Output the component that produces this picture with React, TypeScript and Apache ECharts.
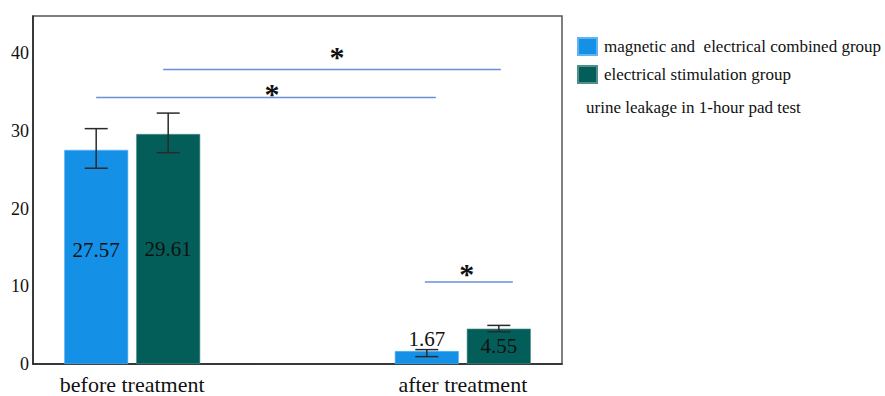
import React, { useEffect, useRef } from "react";
import * as echarts from "echarts";

// ---- data ----
const categories = ["before treatment", "after treatment"];
const categorySlots = [1, 6]; // slot index of each category on an 8-slot axis
const slotCount = 8;
const seriesNames = ["magnetic and  electrical combined group", "electrical stimulation group"];
const combinedValues = [27.57, 1.67];
const electricalValues = [29.61, 4.55];
const combinedErrLow = [25.2, 0.95];
const combinedErrHigh = [30.3, 1.85];
const electricalErrLow = [27.2, 4.15];
const electricalErrHigh = [32.3, 4.97];
const yTicks = [0, 10, 20, 30, 40];
const yMax = 44.8;
const subtitle = "urine leakage in 1-hour pad test";
// significance brackets: [fromSlot, fromDx, toSlot, toDx, lineValue, starValue, starDx]
const brackets = [
  [1, 31, 6, 38, 37.9, 40.0, 5],
  [1, -36, 6, -27, 34.3, 35.2, 6],
  [6, -38, 6, 50, 10.55, 12.1, -2],
];

// ---- style ----
const BAR_W = 64;
const BAR_GAP = 8;
const HALF = (BAR_W + BAR_GAP) / 2;
const colors = ["#1490e7", "#035e5a"];
const FONT = "Liberation Serif";
const labelPos = [
  [{ position: "inside", offset: [0, -7] }, { position: "top", distance: 2 }],
  [{ position: "inside", offset: [0, 0] }, { position: "inside", offset: [0, 0] }],
];

export default function App() {
  const ref = useRef<HTMLDivElement>(null);
  useEffect(() => {
    if (!ref.current) return;
    const chart = echarts.init(ref.current, undefined, { renderer: "svg" });
    const axisData: string[] = Array(slotCount).fill("");
    categorySlots.forEach((s, i) => (axisData[s] = categories[i]));

    const barData = (vals: number[], si: number) => {
      const arr: any[] = Array(slotCount).fill("-");
      categorySlots.forEach((s, i) => {
        arr[s] = {
          value: vals[i],
          label: { show: true, ...labelPos[si][i] },
        };
      });
      return arr;
    };

    const errData: number[][] = [];
    categorySlots.forEach((s, i) => {
      errData.push([s, combinedErrLow[i], combinedErrHigh[i], -1]);
      errData.push([s, electricalErrLow[i], electricalErrHigh[i], 1]);
    });

    chart.setOption({
      animation: false,
      textStyle: { fontFamily: FONT },
      grid: {
        left: 33,
        top: 16,
        right: 323,
        bottom: 32,
        show: true,
        borderColor: "#555",
        borderWidth: 1.5,
      },
      legend: {
        data: seriesNames,
        orient: "vertical",
        left: 577,
        top: 37,
        padding: 0,
        itemWidth: 19,
        itemHeight: 17,
        itemGap: 9,
        icon: "rect",
        textStyle: { fontFamily: FONT, fontSize: 17, color: "#111", padding: [0, 0, 0, 2] },
      },
      graphic: [
        {
          type: "text",
          left: 586,
          top: 99,
          style: { text: subtitle, fontFamily: FONT, fontSize: 17, fill: "#111" },
        },
      ],
      xAxis: {
        type: "category",
        data: axisData,
        axisLine: { show: true, lineStyle: { color: "#222", width: 1.5 } },
        axisTick: { show: false },
        axisLabel: { interval: 0, fontSize: 22, color: "#111", margin: 9, fontFamily: FONT },
      },
      yAxis: {
        type: "value",
        min: 0,
        max: yMax,
        interval: 10,
        axisLine: { show: true, lineStyle: { color: "#222", width: 1.5 } },
        axisTick: { show: false },
        splitLine: { show: false },
        axisLabel: {
          fontSize: 18,
          color: "#111",
          margin: 4,
          fontFamily: FONT,
          showMaxLabel: false,
          formatter: (v: number) => (yTicks.includes(v) ? String(v) : ""),
        },
      },
      series: [
        {
          name: seriesNames[0],
          type: "bar",
          barWidth: BAR_W,
          barGap: `${(BAR_GAP / BAR_W) * 100}%`,
          data: barData(combinedValues, 0),
          itemStyle: { color: colors[0], borderColor: "#5fb3ee", borderWidth: 0.6 },
          label: { fontSize: 21, color: "#111", fontFamily: FONT },
          z: 2,
        },
        {
          name: seriesNames[1],
          type: "bar",
          barWidth: BAR_W,
          data: barData(electricalValues, 1),
          itemStyle: { color: colors[1], borderColor: "#4f8f8c", borderWidth: 0.6 },
          label: { fontSize: 21, color: "#111", fontFamily: FONT },
          z: 2,
        },
        {
          type: "custom",
          data: errData,
          z: 5,
          renderItem: (params: any, api: any) => {
            const x = api.value(0);
            const lo = api.coord([x, api.value(1)]);
            const hi = api.coord([x, api.value(2)]);
            const cx = lo[0] + api.value(3) * HALF;
            const cap = 11.5;
            const st = { stroke: "#2a2a2a", lineWidth: 1.5 };
            return {
              type: "group",
              children: [
                { type: "line", shape: { x1: cx, y1: lo[1], x2: cx, y2: hi[1] }, style: st },
                { type: "line", shape: { x1: cx - cap, y1: lo[1], x2: cx + cap, y2: lo[1] }, style: st },
                { type: "line", shape: { x1: cx - cap, y1: hi[1], x2: cx + cap, y2: hi[1] }, style: st },
              ],
            };
          },
        },
        {
          type: "custom",
          data: brackets,
          z: 5,
          renderItem: (params: any, api: any) => {
            const a = api.coord([api.value(0), api.value(4)]);
            const b = api.coord([api.value(2), api.value(4)]);
            const x1 = a[0] + api.value(1);
            const x2 = b[0] + api.value(3);
            const s = api.coord([api.value(0), api.value(5)]);
            return {
              type: "group",
              children: [
                {
                  type: "line",
                  shape: { x1, y1: a[1], x2, y2: a[1] },
                  style: { stroke: "#6a8fd8", lineWidth: 1.5 },
                },
                {
                  type: "text",
                  x: (x1 + x2) / 2 + api.value(6),
                  y: s[1] + 3,
                  style: {
                    text: "*",
                    fontFamily: FONT,
                    fontSize: 30,
                    fontWeight: "bold",
                    fill: "#111",
                    align: "center",
                    verticalAlign: "middle",
                  },
                },
              ],
            };
          },
        },
      ],
    });
    return () => chart.dispose();
  }, []);
  return (
    <div
      ref={ref}
      style={{ position: "fixed", left: 0, top: 0, width: 885, height: 396, background: "#fff" }}
    />
  );
}
